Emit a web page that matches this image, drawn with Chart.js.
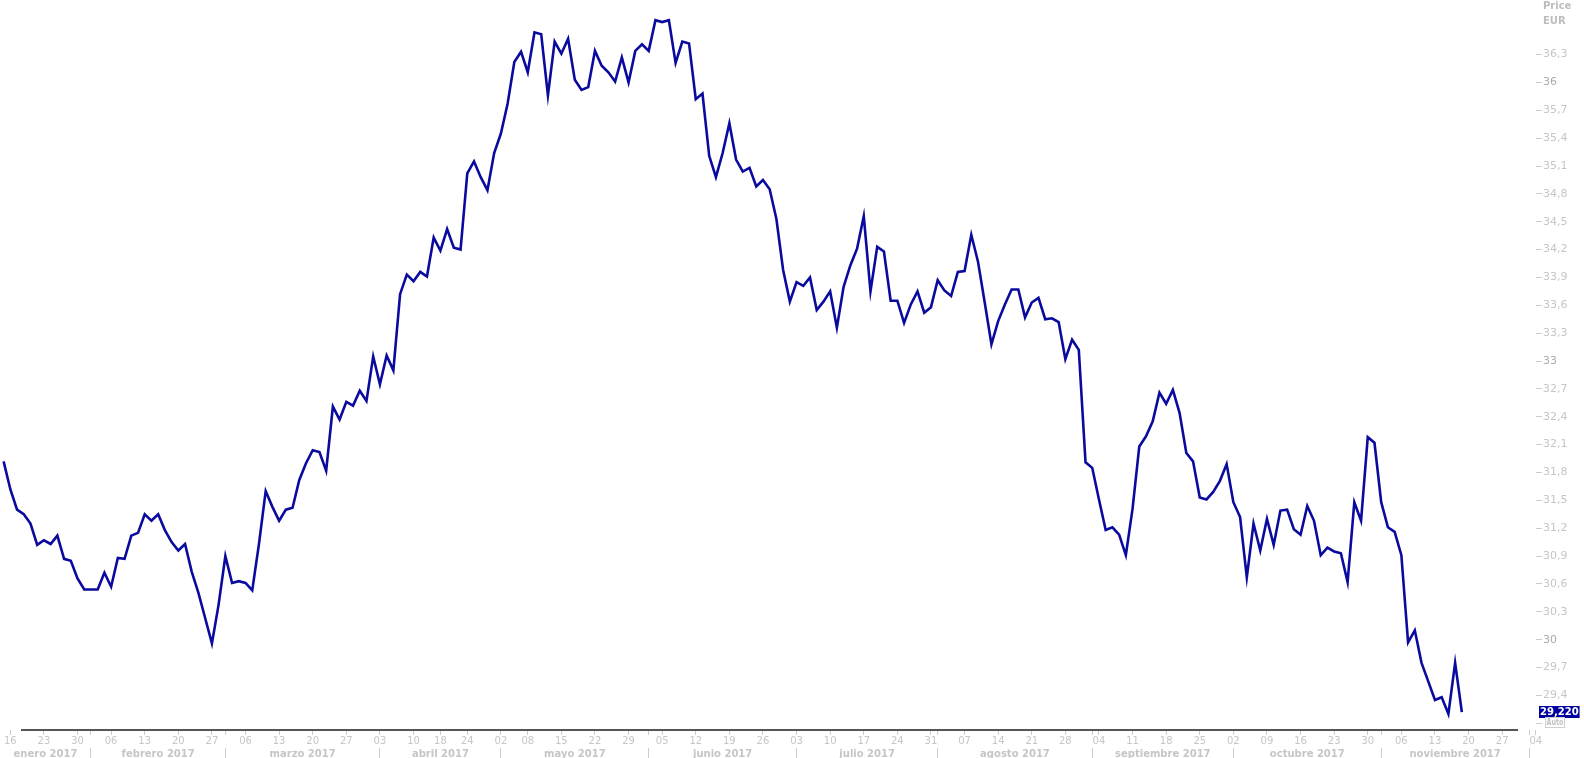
<!DOCTYPE html>
<html>
<head>
<meta charset="utf-8">
<script src="https://cdn.jsdelivr.net/npm/chart.js@4.4.1/dist/chart.umd.min.js"></script>
<style>
  html, body { margin: 0; padding: 0; background: #fff; overflow: hidden; }
  canvas { display: block; }
</style>
</head>
<body>
<canvas id="priceChart" width="1584" height="758"></canvas>
<script>
// trading calendar shown on the axis
const startDate = '2017-01-13';
const endDate = '2017-12-04';
const holidays = ['2017-04-14', '2017-04-17', '2017-05-01'];
const monthNames = ['enero', 'febrero', 'marzo', 'abril', 'mayo', 'junio', 'julio',
  'agosto', 'septiembre', 'octubre', 'noviembre', 'diciembre'];

// daily close, EUR (13 Jan - 17 Nov 2017)
const prices = [
  31.92, 31.62, 31.40, 31.35, 31.25, 31.02, 31.07, 31.03, 31.12, 30.87,
  30.85, 30.66, 30.54, 30.54, 30.54, 30.72, 30.57, 30.88, 30.87, 31.12,
  31.15, 31.35, 31.28, 31.35, 31.18, 31.05, 30.96, 31.03, 30.73, 30.50,
  30.23, 29.96, 30.38, 30.90, 30.61, 30.63, 30.61, 30.53, 31.03, 31.60,
  31.43, 31.28, 31.40, 31.42, 31.72, 31.90, 32.04, 32.02, 31.82, 32.51,
  32.37, 32.56, 32.52, 32.68, 32.57, 33.05, 32.75, 33.06, 32.90, 33.72,
  33.93, 33.86, 33.96, 33.91, 34.33, 34.19, 34.42, 34.22, 34.20, 35.02,
  35.15, 34.98, 34.84, 35.24, 35.45, 35.77, 36.22, 36.33, 36.11, 36.54,
  36.52, 35.86, 36.44, 36.31, 36.47, 36.03, 35.92, 35.95, 36.34, 36.18,
  36.11, 36.01, 36.27, 36.00, 36.34, 36.41, 36.34, 36.67, 36.65, 36.67,
  36.21, 36.44, 36.42, 35.82, 35.88, 35.21, 34.98, 35.24, 35.56, 35.17,
  35.04, 35.08, 34.88, 34.95, 34.85, 34.53, 33.98, 33.64, 33.85, 33.81,
  33.90, 33.55, 33.64, 33.75, 33.36, 33.80, 34.03, 34.21, 34.56, 33.75,
  34.23, 34.18, 33.65, 33.65, 33.41, 33.61, 33.75, 33.52, 33.58, 33.87,
  33.76, 33.70, 33.96, 33.97, 34.36, 34.07, 33.63, 33.18, 33.43, 33.61,
  33.77, 33.77, 33.47, 33.63, 33.68, 33.45, 33.46, 33.42, 33.02, 33.23,
  33.12, 31.91, 31.85, 31.51, 31.18, 31.21, 31.13, 30.91, 31.41, 32.08,
  32.19, 32.35, 32.66, 32.54, 32.69, 32.44, 32.01, 31.92, 31.53, 31.51,
  31.59, 31.71, 31.89, 31.48, 31.32, 30.67, 31.25, 30.96, 31.30, 31.02,
  31.39, 31.40, 31.19, 31.13, 31.44, 31.28, 30.91, 30.99, 30.95, 30.93,
  30.62, 31.48, 31.28, 32.18, 32.12, 31.48, 31.21, 31.16, 30.91, 29.97,
  30.10, 29.75, 29.55, 29.35, 29.38, 29.20, 29.75, 29.22
];

const priceTicks = [29.1, 29.4, 29.7, 30, 30.3, 30.6, 30.9, 31.2, 31.5, 31.8, 32.1,
  32.4, 32.7, 33, 33.3, 33.6, 33.9, 34.2, 34.5, 34.8, 35.1, 35.4, 35.7, 36, 36.3];
const unlabeledTicks = [29.1];

function buildDays() {
  const out = [];
  const d = new Date(startDate + 'T00:00:00Z');
  const end = new Date(endDate + 'T00:00:00Z');
  while (d <= end) {
    const iso = d.toISOString().slice(0, 10);
    const wd = d.getUTCDay();
    if (wd !== 0 && wd !== 6 && !holidays.includes(iso)) out.push(iso);
    d.setUTCDate(d.getUTCDate() + 1);
  }
  return out;
}
const days = buildDays();
const asDate = s => new Date(s + 'T00:00:00Z');

const X_MIN = -0.536;
const X_MAX = 228.035;

// day row: first trading day of each week, plus month boundaries
const dayTicks = [];
const monthStarts = [];
for (let i = 1; i < days.length; i++) {
  const a = asDate(days[i - 1]), b = asDate(days[i]);
  const newWeek = b.getUTCDay() < a.getUTCDay() || (b - a) >= 7 * 864e5;
  const newMonth = b.getUTCMonth() !== a.getUTCMonth();
  if (newMonth) monthStarts.push(i);
  if (newWeek || newMonth) dayTicks.push({value: i, text: newWeek ? days[i].slice(8, 10) : ''});
}

const monthTicks = [];
monthStarts.forEach(i => monthTicks.push({value: i, sep: true, text: ''}));
const bounds = [X_MIN, ...monthStarts, X_MAX];
for (let k = 0; k < bounds.length - 1; k++) {
  const s = bounds[k], e = bounds[k + 1];
  if (e - s < 6) continue;
  const ref = asDate(days[Math.max(0, Math.ceil(s))]);
  monthTicks.push({value: (s + e) / 2, sep: false,
    text: monthNames[ref.getUTCMonth()] + ' ' + ref.getUTCFullYear()});
}
monthTicks.sort((p, q) => p.value - q.value);

const labelGrey = '#c6c6c6';

const decor = {
  id: 'decor',
  afterDraw(chart) {
    const {ctx, chartArea} = chart;
    const yScale = chart.scales.y;
    const r = chartArea.right;
    ctx.save();
    ctx.fillStyle = '#555555';
    ctx.fillRect(21, chartArea.bottom - 1, r - 18 - 21, 2);

    ctx.font = 'bold 10px "DejaVu Sans"';
    ctx.textBaseline = 'middle';
    ctx.textAlign = 'left';
    ctx.fillStyle = '#bdbdbd';
    ctx.fillText('Price', r + 7, 6);
    ctx.fillText('EUR', r + 7, 21);

    const last = prices[prices.length - 1];
    const py = yScale.getPixelForValue(last);
    const txt = last.toFixed(3).replace('.', ',');
    const w = ctx.measureText(txt).width + 2;
    ctx.fillStyle = '#0000a0';
    ctx.fillRect(r + 3, Math.round(py) - 6, w, 12);
    ctx.fillStyle = '#ffffff';
    ctx.fillText(txt, r + 4, Math.round(py) + 0.5);

    const ay = Math.round(yScale.getPixelForValue(29.1));
    ctx.strokeStyle = '#cfcfcf';
    ctx.lineWidth = 1;
    ctx.strokeRect(r + 9.5, ay - 5.5, 19, 10);
    ctx.font = 'bold 9px "DejaVu Sans"';
    ctx.fillStyle = '#c2c2c2';
    ctx.textAlign = 'center';
    ctx.fillText('Auto', r + 19, ay, 17);
    ctx.restore();
  }
};

new Chart(document.getElementById('priceChart'), {
  type: 'line',
  data: {
    datasets: [{
      data: prices.map((v, i) => ({x: i, y: v})),
      borderColor: '#0a0a9f',
      borderWidth: 2.6,
      pointRadius: 0,
      tension: 0,
      fill: false
    }]
  },
  options: {
    responsive: false,
    animation: false,
    devicePixelRatio: 1,
    layout: {padding: 0},
    plugins: {legend: {display: false}, tooltip: {enabled: false}},
    scales: {
      x: {
        type: 'linear',
        position: 'bottom',
        weight: 0,
        min: X_MIN,
        max: X_MAX,
        afterBuildTicks: s => { s.ticks = dayTicks.map(t => ({...t})); },
        afterFit: s => { s.height = 18; },
        border: {display: false},
        grid: {drawOnChartArea: false, drawTicks: true, tickLength: 5, color: '#cccccc'},
        ticks: {
          autoSkip: false, maxRotation: 0, padding: 0, color: labelGrey,
          font: {family: 'DejaVu Sans', size: 10},
          callback: (v, i, ticks) => ticks[i].text
        }
      },
      x2: {
        type: 'linear',
        position: 'bottom',
        weight: 1,
        min: X_MIN,
        max: X_MAX,
        afterBuildTicks: s => { s.ticks = monthTicks.map(t => ({...t})); },
        afterFit: s => { s.height = 10; },
        border: {display: false},
        grid: {
          drawOnChartArea: false, drawTicks: true, tickLength: 11,
          color: c => (c.tick && c.tick.sep) ? '#cccccc' : 'rgba(0,0,0,0)'
        },
        ticks: {
          autoSkip: false, maxRotation: 0, padding: -11, color: labelGrey,
          font: {family: 'DejaVu Sans', size: 10, weight: 'bold'},
          callback: (v, i, ticks) => ticks[i].text
        }
      },
      y: {
        type: 'linear',
        position: 'right',
        min: 29.027,
        max: 36.806,
        afterBuildTicks: s => { s.ticks = priceTicks.map(v => ({value: v})); },
        afterFit: s => { s.width = 48; },
        border: {display: false},
        grid: {drawOnChartArea: false, drawTicks: true, tickLength: 6, color: '#cccccc'},
        ticks: {
          padding: 1,
          color: c => (c.tick && Number.isInteger(c.tick.value)) ? '#acacac' : labelGrey,
          font: {family: 'DejaVu Sans', size: 11},
          callback: v => unlabeledTicks.includes(v) ? '' : String(v).replace('.', ',')
        }
      }
    }
  },
  plugins: [decor]
});
</script>
</body>
</html>
